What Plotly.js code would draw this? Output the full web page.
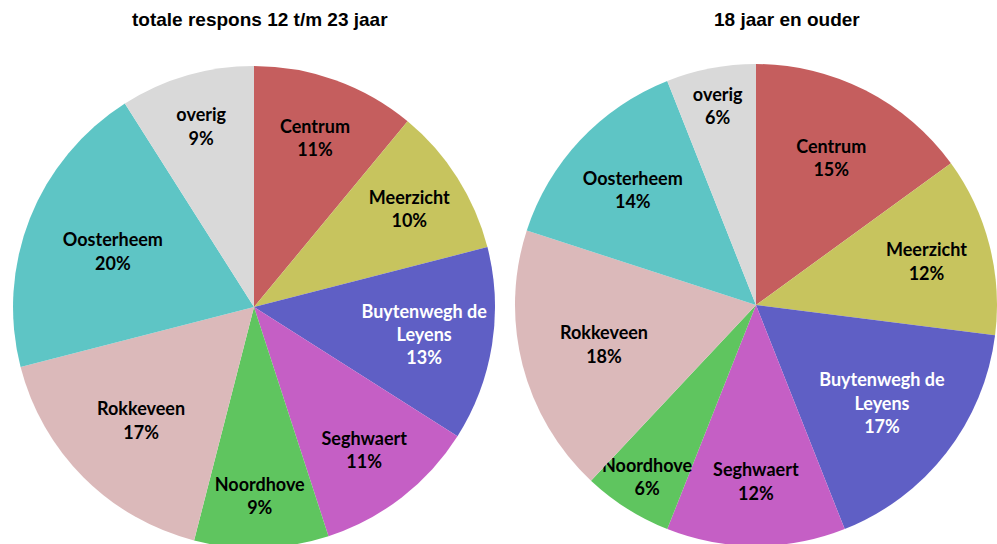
<!DOCTYPE html>
<html>
<head>
<meta charset="utf-8">
<script src="https://cdn.plot.ly/plotly-3.0.1.min.js"></script>
<style>
  html, body { margin: 0; padding: 0; overflow: hidden; background: #fff; }
</style>
</head>
<body>
<div id="pies" style="width:997px;height:560px;"></div>
<script>
// wijken
let wijken = ["Centrum", "Meerzicht", "Buytenwegh de Leyens", "Seghwaert",
              "Noordhove", "Rokkeveen", "Oosterheem", "overig"];
let labelText = ["Centrum", "Meerzicht", "Buytenwegh de<br>Leyens", "Seghwaert",
                 "Noordhove", "Rokkeveen", "Oosterheem", "overig"];

// percentages per groep
let jeugd = [11, 10, 13, 11, 9, 17, 20, 9];
let volwassen = [15, 12, 17, 12, 6, 18, 14, 6];

let kleuren = ["#C55E5E", "#C7C45E", "#5F5FC5", "#C55FC5",
               "#5FC55F", "#DBB9BA", "#5EC5C5", "#D9D9D9"];
let tekstKleur = ["#000", "#000", "#fff", "#000", "#000", "#000", "#000", "#000"];

function makePie(values, domain) {
  return {
    type: "pie",
    values: values,
    labels: wijken,
    text: labelText.map((t, i) => t + "<br>" + values[i] + "%"),
    textinfo: "text",
    textposition: "inside",
    insidetextorientation: "horizontal",
    sort: false,
    direction: "clockwise",
    rotation: 0,
    hole: 0,
    domain: domain,
    marker: { colors: kleuren, line: { width: 0 } },
    insidetextfont: { family: "Lato, 'Open Sans', sans-serif", size: 18, color: tekstKleur, weight: "bold" },
    hoverinfo: "label+percent"
  };
}

let trace1 = makePie(jeugd, { x: [0.01304, 0.4965], y: [0.02143, 0.8821] });
let trace2 = makePie(volwassen, { x: [0.5165, 1.0], y: [0.025, 0.8857] });

let titleFont = { family: "Liberation Sans, Arial, sans-serif", size: 19, color: "#000" };

let layout = {
  width: 997,
  height: 560,
  margin: { l: 0, r: 0, t: 0, b: 0 },
  showlegend: false,
  paper_bgcolor: "#fff",
  uniformtext: { minsize: 18, mode: "show" },
  annotations: [
    { text: "<b>totale respons 12 t/m 23 jaar</b>", x: 260 / 997, y: 1 - 20 / 560,
      xref: "paper", yref: "paper", xanchor: "center", yanchor: "middle",
      showarrow: false, font: titleFont },
    { text: "<b>18 jaar en ouder</b>", x: 787 / 997, y: 1 - 20 / 560,
      xref: "paper", yref: "paper", xanchor: "center", yanchor: "middle",
      showarrow: false, font: titleFont }
  ]
};

Plotly.newPlot("pies", [trace1, trace2], layout, { displayModeBar: false, staticPlot: true });
</script>
</body>
</html>
